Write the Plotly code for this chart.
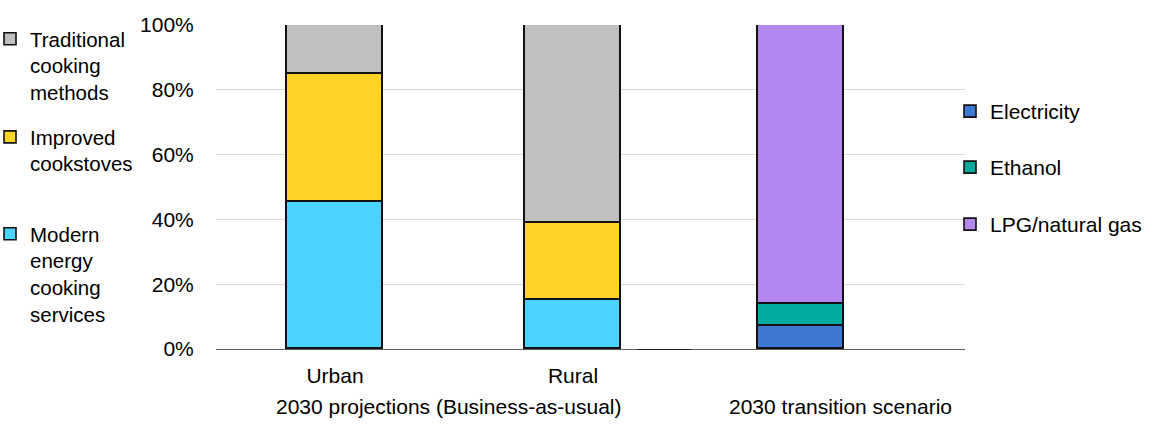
import plotly.graph_objects as go

# ---- data ----
bau_categories = ["Urban", "Rural"]
modern_energy = [45.5, 15]
improved_cookstoves = [39.5, 24]
traditional_methods = [15, 61]

transition_category = ["2030 transition scenario"]
electricity = [7]
ethanol = [6.8]
lpg_natural_gas = [86.2]

y_ticks = [0, 20, 40, 60, 80, 100]
y_tick_labels = ["0%", "20%", "40%", "60%", "80%", "100%"]

# ---- style ----
FONT = "Arial, Liberation Sans, sans-serif"
FS = 21
W, H = 1153, 428
T, B = 25, 79
PH = H - T - B
OUTLINE = dict(color="#111111", width=1.6)
AXIS_LINE = "rgba(0,0,0,0.62)"

C_TRAD = "#bfbfbf"
C_IMPR = "#ffd426"
C_MOD = "#4bd3ff"
C_ELEC = "#3d78d3"
C_ETH = "#00aa9e"
C_LPG = "#b388ee"

fig = go.Figure()

fig.add_trace(go.Bar(x=bau_categories, y=modern_energy, name="Modern<br>energy<br>cooking<br>services",
                     marker=dict(color=C_MOD, line=OUTLINE), width=0.4, xaxis="x", yaxis="y",
                     legend="legend3"))
fig.add_trace(go.Bar(x=bau_categories, y=improved_cookstoves, name="Improved<br>cookstoves",
                     marker=dict(color=C_IMPR, line=OUTLINE), width=0.4, xaxis="x", yaxis="y",
                     legend="legend2"))
fig.add_trace(go.Bar(x=bau_categories, y=traditional_methods, name="Traditional<br>cooking<br>methods",
                     marker=dict(color=C_TRAD, line=OUTLINE), width=0.4, xaxis="x", yaxis="y",
                     legend="legend", showlegend=True))

fig.add_trace(go.Bar(x=transition_category, y=electricity, name="Electricity",
                     marker=dict(color=C_ELEC, line=OUTLINE), width=0.262, xaxis="x2", yaxis="y2",
                     legend="legend4"))
fig.add_trace(go.Bar(x=transition_category, y=ethanol, name="Ethanol",
                     marker=dict(color=C_ETH, line=OUTLINE), width=0.262, xaxis="x2", yaxis="y2",
                     legend="legend5"))
fig.add_trace(go.Bar(x=transition_category, y=lpg_natural_gas, name="LPG/natural gas",
                     marker=dict(color=C_LPG, line=OUTLINE), width=0.262, xaxis="x2", yaxis="y2",
                     legend="legend6"))


def py(px):
    return 1 - (px - T) / PH


def legend_at(xpx, ytop_px, size=FS):
    return dict(x=xpx / W, xanchor="left", y=py(ytop_px), yanchor="top",
                bgcolor="rgba(0,0,0,0)", font=dict(family=FONT, size=size, color="#000000"),
                valign="top", itemclick=False, itemdoubleclick=False)


LX = -10
RX = 950
LFS = 20.5
fig.update_layout(
    width=W, height=H,
    margin=dict(l=0, r=0, t=T, b=B, autoexpand=False),
    paper_bgcolor="white", plot_bgcolor="rgba(0,0,0,0)",
    barmode="stack", bargap=0,
    showlegend=True,
    font=dict(family=FONT, size=FS, color="#000000"),
    legend=legend_at(LX, 40 - 21, LFS),
    legend2=legend_at(LX, 138 - 21, LFS),
    legend3=legend_at(LX, 235 - 21, LFS),
    legend4=legend_at(RX, 112 - 21),
    legend5=legend_at(RX, 168 - 21),
    legend6=legend_at(RX, 225 - 21),
    xaxis=dict(domain=[216 / W, 692 / W], anchor="y", showgrid=False, showline=True,
               linecolor=AXIS_LINE, linewidth=1.3, ticks="outside", ticklen=8,
               tickcolor="rgba(0,0,0,0)", tickfont=dict(family=FONT, size=FS, color="#000000"),
               fixedrange=True),
    yaxis=dict(domain=[0, 1], anchor="x", range=[0, 100], tickvals=y_ticks, ticktext=y_tick_labels,
               showgrid=True, gridcolor="#d9d9d9", gridwidth=1, zeroline=False, showline=False,
               ticks="outside", ticklen=17, tickcolor="rgba(0,0,0,0)",
               tickfont=dict(family=FONT, size=FS, color="#000000"), fixedrange=True),
    xaxis2=dict(domain=[637 / W, 965 / W], anchor="y2", showgrid=False, showline=True,
                linecolor=AXIS_LINE, linewidth=1.3, showticklabels=False, fixedrange=True),
    yaxis2=dict(domain=[0, 1], anchor="x2", range=[0, 100], tickvals=y_ticks,
                showgrid=True, gridcolor="#d9d9d9", gridwidth=1, zeroline=False, showline=False,
                showticklabels=False, fixedrange=True),
    annotations=[
        dict(text="2030 projections (Business-as-usual)", x=449 / W, y=py(407), xref="paper",
             yref="paper", xanchor="center", yanchor="middle", showarrow=False,
             font=dict(family=FONT, size=FS, color="#000000")),
        dict(text="2030 transition scenario", x=840 / W, y=py(407), xref="paper",
             yref="paper", xanchor="center", yanchor="middle", showarrow=False,
             font=dict(family=FONT, size=FS, color="#000000")),
    ],
)

fig.write_html("out.html", config={"displayModeBar": False})
